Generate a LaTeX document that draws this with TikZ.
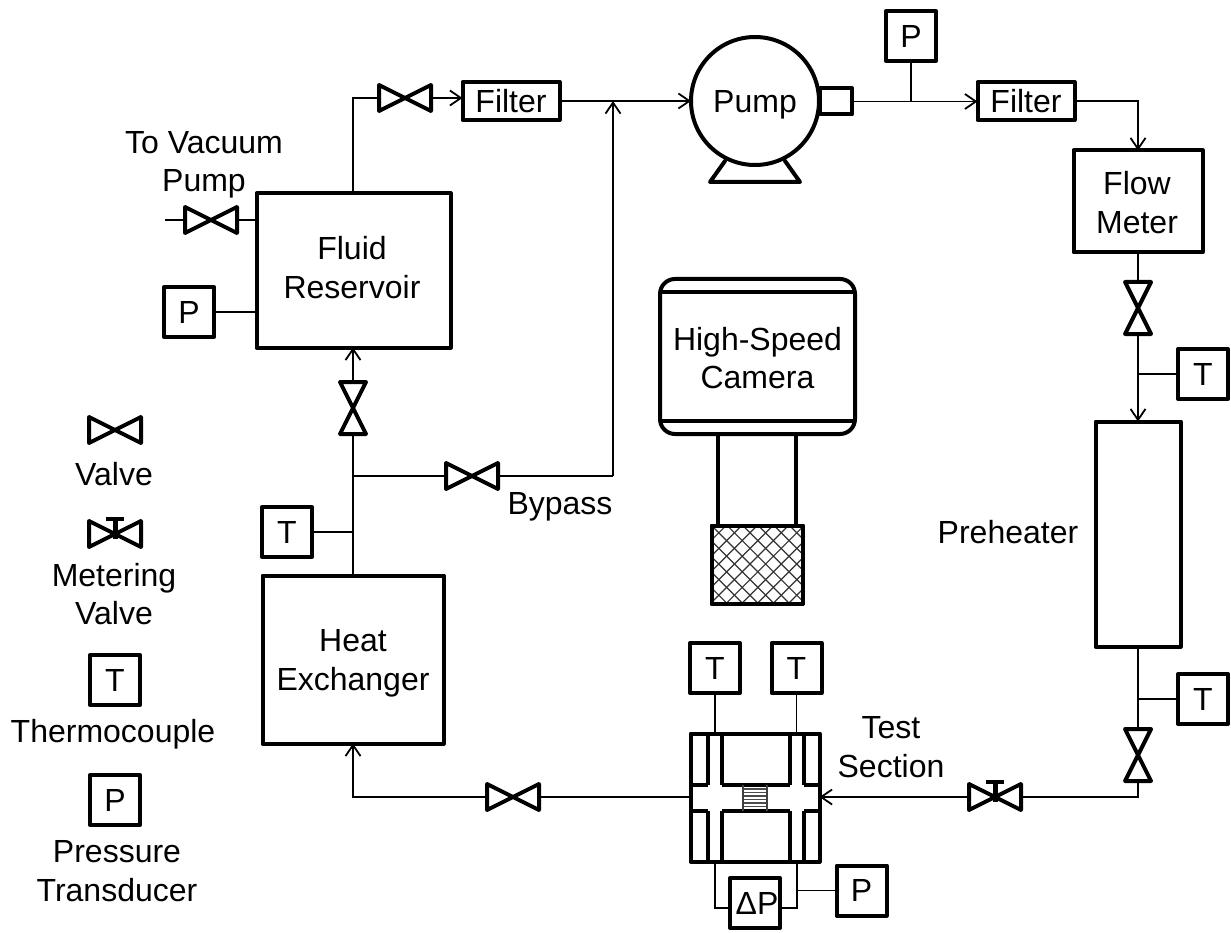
\documentclass[tikz,border=0pt]{standalone}
\usepackage{fontspec}
\setmainfont{Liberation Sans}
\usetikzlibrary{arrows.meta,calc}
\tikzset{
  x=1pt,y=-1pt,
  every node/.style={font=\fontsize{32}{38.5}\selectfont,align=center,inner sep=0pt,outer sep=0pt},
  box/.style={draw,line width=4pt,rectangle,line join=round,inner sep=0pt},
  sq/.style={box,minimum width=50pt,minimum height=50pt},
  thick line/.style={line width=4pt,line join=round,line cap=round},
  pipe/.style={line width=1.8pt},
  flow/.style={pipe,-{Straight Barb[length=11pt,width=15pt,line width=1.8pt]}},
  vslot/.style={rectangle,inner sep=0pt,minimum width=52pt,minimum height=26pt},
  uslot/.style={rectangle,inner sep=0pt,minimum width=26pt,minimum height=52pt},
}
\newcommand{\hvalve}[2]{%
  \node[vslot] (#1) at (#2) {};
  \draw[thick line] (#1.north west) -- (#1.south east) -- (#1.north east) -- (#1.south west) -- cycle;}
\newcommand{\uvalve}[2]{%
  \node[uslot] (#1) at (#2) {};
  \draw[thick line] (#1.north west) -- (#1.south east) -- (#1.south west) -- (#1.north east) -- cycle;}
\newcommand{\mvalve}[2]{%
  \hvalve{#1}{#2}
  \draw[line width=5pt] ($(#1.center)+(0,5)$) -- ++(0,-21);
  \draw[line width=4.5pt] ($(#1.center)+(-9,-15)$) -- ++(18,0);}
\begin{document}
\begin{tikzpicture}
\path[use as bounding box] (0,0) rectangle (1231,933);

% --- equipment
\node[box,minimum width=97pt,minimum height=38pt] (f1) at (511,101) {Filter};
\node[box,minimum width=97pt,minimum height=38pt] (f2) at (1026,101) {Filter};
\draw[thick line] (725,161) -- (710,182) -- (800,182) -- (785,161);
\node[box,minimum width=32pt,minimum height=26pt,anchor=west] (noz) at (820,101.5) {};
\node[box,circle,fill=white,minimum size=128pt,text depth=0pt] (pump) at (755,101) {Pump};
\node[sq] (ptop) at (911,36) {P};
\node[box,minimum width=129pt,minimum height=102pt] (flowm) at (1138,201.5) {};
\node[box,minimum width=194pt,minimum height=154pt] (res) at (353.5,270.5) {};
\node[box,minimum width=181pt,minimum height=168pt] (hx) at (353,659.5) {};
\node[box,minimum width=85pt,minimum height=225pt] (pre) at (1138,534) {};
\node[sq] (pres) at (189,312) {P};
\node[sq] (tbyp) at (287,532) {T};
\node[sq] (tr1) at (1203,374) {T};
\node[sq] (tr2) at (1203,699) {T};
\node[sq] (tt1) at (715,668) {T};
\node[sq] (tt2) at (796.5,668) {T};
\node[sq] (dp) at (755,903) {$\,$ΔP};
\node[sq] (pt) at (861.5,890.5) {P};

% --- camera
\node[box,rounded corners=15pt,minimum width=195pt,minimum height=155pt] (cam) at (757.5,356.5) {};
\draw[thick line,line cap=butt] (cam.west |- 0,292) -- (cam.east |- 0,292);
\draw[thick line,line cap=butt] (cam.west |- 0,421) -- (cam.east |- 0,421);
\node[box,minimum width=91pt,minimum height=78pt] (lens) at (757,564.5) {};
\draw[thick line,line cap=butt] (718,435) -- (718,525);
\draw[thick line,line cap=butt] (796,435) -- (796,525);
\begin{scope}
  \clip (lens.north west) rectangle (lens.south east);
  \foreach \k in {-7,...,14} {
    \draw[line width=1.2pt,black!80] ({711+\k*15.6},525) -- ++(85,85);
    \draw[line width=1.2pt,black!80] ({711+\k*15.6},525) -- ++(-85,85);
  }
\end{scope}
\draw[box,fill=none] (lens.north west) rectangle (lens.south east);

% --- test section
\node[box,minimum width=129pt,minimum height=128pt] (ts) at (755,797.5) {};
\foreach \y/\a/\b in {785/690/708,785/722/790,785/804/820,811/690/708,811/722/790,811/804/820}
  \draw[thick line,line cap=butt] (\a,\y) -- (\b,\y);
\foreach \x in {708,722,790,804} {
  \draw[thick line,line cap=butt] (\x,733) -- (\x,785);
  \draw[thick line,line cap=butt] (\x,811) -- (\x,862);
}
\foreach \y in {789,792.5,796,799.5,803,806.5}
  \draw[line width=1.4pt,black!70] (743,\y) -- (767,\y);
\draw[line width=2.2pt,black!75] (743,785) -- (743,811) (767,785) -- (767,811);

% --- valves
\hvalve{vtop}{405,98}
\hvalve{vvac}{211,220}
\uvalve{vres}{353,408}
\hvalve{vbyp}{472,476}
\uvalve{vflow}{1138,308}
\uvalve{vpre}{1138,755}
\mvalve{vmet}{995,797}
\hvalve{vhx}{513,797}
\hvalve{lv}{115,430}
\mvalve{lm}{115,534}

% --- junctions
\coordinate (jtee) at (613,101);
\coordinate (jp) at (ptop.south |- noz.east);
\coordinate (jbyp) at (vres.south |- vbyp.west);
\coordinate (jt) at (vres.south |- tbyp.east);
\coordinate (jtf) at (vflow.south |- tr1.west);
\coordinate (jtp) at (vpre.north |- tr2.west);
\coordinate (vacend) at (165,220);
\coordinate (dpr) at (797,908);

% --- connectors
\draw[pipe] (res.north -| vres) -- (vres.north |- vtop.west) -- (vtop.west);
\draw[flow] (vtop.east) -- (f1.west |- vtop.east);
\draw[flow] (f1.east) -- (pump.west);
\draw[flow] (jbyp -| jtee) -- (jtee);
\draw[pipe] (jbyp) -- (vbyp.west);
\draw[pipe] (vbyp.east) -- (jbyp -| jtee);
\draw[flow] (vres.north) -- (res.south -| vres);
\draw[pipe] (hx.north -| vres) -- (vres.south);
\draw[pipe] (tbyp.east) -- (jt);
\draw[pipe] (vacend) -- (vvac.west);
\draw[pipe] (vvac.east) -- (res.west |- vvac.east);
\draw[pipe] (pres.east) -- (res.west |- pres.east);
\draw[pipe] (noz.east) -- (jp);
\draw[flow] (jp) -- (f2.west |- jp);
\draw[pipe] (ptop.south) -- (jp);
\draw[flow] (f2.east) -| (flowm.north);
\draw[pipe] (flowm.south) -- (vflow.north);
\draw[flow] (vflow.south) -- (pre.north -| vflow);
\draw[pipe] (tr1.west) -- (jtf);
\draw[pipe] (pre.south) -- (vpre.north);
\draw[pipe] (tr2.west) -- (jtp);
\draw[pipe] (vpre.south) |- (vmet.east);
\draw[flow] (vmet.west) -- (ts.east |- vmet.west);
\draw[pipe] (ts.west |- vhx.east) -- (vhx.east);
\draw[flow] (vhx.west) -| (hx.south -| vres);
\draw[pipe] (tt1.south) -- (tt1.south |- ts.north);
\draw[pipe] (tt2.south) -- (tt2.south |- ts.north);
\draw[pipe] (ts.south -| tt1) |- (dp.west |- dpr);
\draw[pipe] (dp.east |- dpr) -| (ts.south -| dpr);
\draw[pipe] (dpr |- pt.west) -- (pt.west);

% --- labels
\node (lflow) at (1137,202.5) {Flow\\Meter};
\node (lres) at (352,267.5) {Fluid\\Reservoir};
\node (lhx) at (353,663.5) {Heat\\Exchanger};
\node (lcam) at (757.5,358) {High-Speed\\Camera};
\node (lvac) at (204,165) {To Vacuum\\Pump};
\node (lbyp) at (560,507) {Bypass};
\node (lpre) at (1008,532) {Preheater};
\node (lts) at (891,747) {Test\\Section};

% --- legend
\node (lv1) at (114,474) {Valve};
\node (lm1) at (114,594) {Metering\\Valve};
\node[sq] (lt) at (115,680) {T};
\node (lt1) at (113,734) {Thermocouple};
\node[sq] (lp) at (115,800) {P};
\node (lp1) at (117,871) {Pressure\\Transducer};
\end{tikzpicture}
\end{document}
